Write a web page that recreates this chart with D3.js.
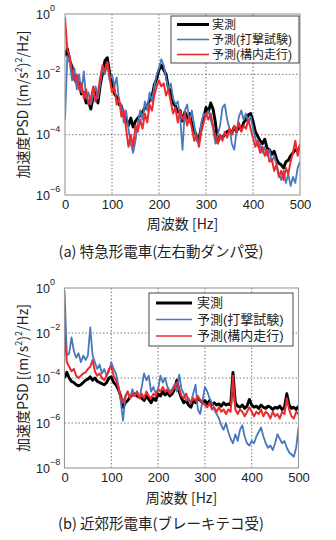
<!DOCTYPE html>
<html>
<head>
<meta charset="utf-8">
<script src="https://cdn.jsdelivr.net/npm/d3@7"></script>
<style>
  body{margin:0;background:#fff;}
  svg{display:block;font-family:"Liberation Sans",Arial,sans-serif;}
  .jp{font-family:"Noto Sans CJK JP",sans-serif;}
  .lg{font-family:"Liberation Sans","Noto Sans CJK JP",sans-serif;}
  .grid line{stroke:#555;stroke-dasharray:1.5,2;stroke-width:0.8;}
  .line{fill:none;stroke-linejoin:round;}
</style>
</head>
<body>
<script>
// 周波数 [Hz] (5Hz刻み)
var freq = d3.range(0, 505, 5);

// 凡例
var names = ["実測", "予測(打撃試験)", "予測(構内走行)"];
var colors = ["#000000", "#4a78bd", "#ec2a2e"];
var widths = [2.9, 1.8, 2.0];

// PSDの値 (log10)  -- (a) 特急形電車
var measA = [
  -1.4,-1.15,-1.55,-1.75,-2.15,-2.3,-2.25,-2.65,-2.6,-2.95,
  -2.9,-3.15,-2.75,-2.6,-2.95,-2.35,-1.95,-1.55,-1.45,-1.95,
  -2.25,-2.65,-2.75,-3.0,-3.05,-3.35,-3.45,-3.7,-3.45,-3.75,
  -3.55,-3.45,-3.35,-3.25,-3.1,-3.05,-2.85,-2.75,-2.35,-2.15,
  -1.85,-1.7,-1.85,-2.0,-2.45,-2.55,-2.95,-3.05,-3.25,-3.2,
  -3.55,-3.25,-3.45,-3.3,-3.65,-3.85,-4.05,-4.15,-3.75,-3.45,
  -3.1,-3.25,-2.95,-3.15,-3.6,-4.25,-4.05,-4.1,-4.0,-3.9,
  -3.85,-3.95,-3.75,-3.9,-3.7,-3.85,-3.6,-3.5,-3.35,-3.3,
  -3.55,-3.9,-4.05,-4.2,-4.3,-4.15,-4.45,-4.5,-4.65,-4.55,
  -4.8,-4.95,-5.0,-5.1,-4.9,-4.85,-4.7,-4.6,-4.5,-4.55,
  -4.4];
var hammerA = [
  -3.5,-1.4,-1.6,-2.2,-1.8,-2.5,-2.0,-2.6,-1.9,-2.8,
  -2.6,-3.0,-2.7,-2.4,-2.8,-2.3,-1.8,-2.0,-1.6,-2.2,
  -2.0,-2.4,-2.1,-2.9,-3.0,-3.6,-3.2,-3.8,-4.3,-4.6,
  -4.2,-3.6,-3.2,-3.5,-2.9,-3.2,-2.6,-2.9,-2.4,-2.0,
  -1.8,-1.5,-1.7,-2.1,-2.5,-2.3,-2.8,-3.0,-2.9,-3.4,
  -4.5,-3.2,-3.0,-3.6,-3.2,-3.7,-4.2,-4.3,-3.6,-3.3,
  -3.4,-3.2,-3.5,-3.8,-4.3,-4.0,-3.7,-3.1,-3.0,-3.5,
  -3.8,-4.3,-4.5,-3.9,-3.4,-3.2,-3.5,-3.3,-3.6,-3.4,
  -3.8,-4.1,-4.4,-4.3,-4.6,-4.4,-4.7,-4.5,-4.9,-4.7,
  -5.0,-5.3,-5.5,-5.2,-5.6,-5.3,-5.7,-5.4,-5.6,-5.1,
  -4.9];
var runA = [
  -0.1,-1.2,-1.4,-1.9,-2.2,-2.0,-2.5,-2.3,-2.8,-2.5,
  -3.0,-2.8,-2.4,-2.9,-2.6,-2.1,-1.7,-1.9,-1.6,-2.1,
  -2.6,-2.4,-3.0,-2.8,-3.4,-3.2,-3.8,-4.4,-4.0,-4.4,
  -3.7,-3.9,-3.5,-3.8,-3.3,-3.6,-3.0,-3.2,-2.7,-2.4,
  -2.2,-2.4,-2.3,-2.7,-2.5,-2.9,-3.3,-3.1,-3.6,-3.2,
  -3.5,-3.3,-3.7,-3.4,-3.8,-4.2,-4.0,-4.4,-3.9,-3.6,
  -3.3,-3.5,-3.3,-3.7,-4.1,-4.3,-4.0,-4.2,-3.9,-4.1,
  -3.8,-4.0,-3.7,-3.9,-3.6,-3.9,-3.7,-3.8,-3.5,-3.8,
  -4.1,-4.4,-4.2,-4.6,-4.4,-4.7,-4.5,-4.9,-4.8,-5.2,
  -5.0,-5.4,-5.2,-5.5,-5.1,-5.3,-4.9,-4.6,-4.2,-4.7,
  -4.3];

// PSDの値 (log10)  -- (b) 近郊形電車
var measB = [
  -4.0,-3.75,-4.0,-4.15,-4.2,-4.3,-4.35,-4.3,-4.2,-4.1,
  -4.05,-3.95,-4.1,-4.0,-4.15,-4.2,-4.25,-4.3,-4.2,-4.0,
  -3.95,-4.2,-4.3,-4.5,-4.8,-5.3,-5.1,-5.0,-4.85,-4.75,
  -4.7,-4.8,-4.85,-4.9,-5.0,-4.8,-4.95,-5.1,-4.9,-5.0,
  -4.7,-4.8,-4.6,-4.75,-4.65,-4.8,-4.7,-4.5,-4.1,-4.6,
  -4.9,-5.1,-5.0,-5.2,-5.3,-5.0,-5.1,-4.9,-5.0,-5.1,
  -5.0,-5.15,-5.0,-5.2,-5.1,-5.2,-5.15,-5.25,-5.1,-5.2,
  -5.15,-5.2,-3.75,-5.1,-5.25,-5.3,-5.2,-5.35,-5.25,-4.95,
  -5.2,-5.3,-5.25,-5.35,-5.2,-5.3,-5.35,-5.25,-5.3,-5.4,
  -5.3,-5.35,-5.25,-5.4,-5.3,-4.7,-5.2,-5.35,-5.3,-5.4,
  -5.25];
var hammerB = [
  -0.1,-3.0,-2.9,-2.2,-2.8,-3.1,-2.9,-3.3,-3.0,-3.2,
  -3.0,-1.75,-3.0,-3.3,-3.6,-3.4,-3.8,-3.6,-3.9,-3.7,
  -3.3,-3.6,-3.8,-4.3,-5.0,-5.9,-4.9,-4.6,-4.9,-4.5,
  -4.8,-4.6,-4.9,-4.4,-3.8,-4.1,-3.9,-4.6,-4.4,-4.7,
  -4.5,-3.9,-4.2,-4.0,-4.4,-4.6,-4.5,-4.3,-4.6,-3.85,
  -4.5,-4.7,-5.0,-4.9,-5.1,-4.7,-4.3,-5.4,-5.6,-5.0,
  -4.4,-4.6,-4.9,-5.1,-5.4,-5.6,-5.8,-6.1,-6.3,-6.0,
  -6.4,-6.7,-6.9,-6.5,-6.8,-6.3,-6.1,-6.6,-6.9,-7.0,
  -6.8,-6.9,-6.6,-6.4,-6.2,-6.6,-6.9,-7.1,-7.0,-7.2,
  -6.9,-6.5,-6.7,-6.9,-6.8,-7.1,-7.3,-7.4,-7.5,-7.1,
  -6.2];
var runB = [
  -2.0,-3.3,-3.5,-3.7,-3.6,-3.9,-4.0,-3.9,-3.8,-3.75,
  -3.6,-3.5,-3.2,-3.7,-3.9,-3.8,-4.0,-4.1,-3.9,-3.6,
  -3.5,-3.9,-4.1,-4.4,-4.85,-5.1,-4.8,-4.6,-4.9,-4.7,
  -4.8,-4.6,-4.9,-4.7,-4.9,-4.6,-4.8,-4.9,-4.7,-4.8,
  -4.5,-4.6,-4.4,-4.6,-4.5,-4.7,-4.6,-4.4,-4.2,-4.5,
  -4.8,-4.9,-4.7,-5.0,-5.1,-4.9,-5.0,-4.8,-5.0,-5.1,
  -5.2,-5.3,-5.1,-5.4,-5.3,-5.5,-5.3,-5.5,-5.4,-5.6,
  -5.4,-5.5,-3.9,-5.4,-5.6,-5.4,-5.5,-5.7,-5.5,-5.3,
  -5.5,-5.7,-5.5,-5.6,-5.4,-5.7,-5.5,-5.6,-5.8,-5.5,
  -5.7,-5.6,-5.8,-5.5,-5.6,-4.9,-5.4,-5.7,-5.8,-5.5,
  -5.6];

var xTicks = [0, 100, 200, 300, 400, 500];

var panels = [
  {box:{l:65, r:300, t:14, b:195}, minExp:-6, yTicks:[0,-2,-4,-6],
   series:[measA, hammerA, runA],
   legend:{x:171, y:16, w:128, h:47, lx0:177, lx1:209, tx:212, rows:[24.5,39.5,54.5], fs:12},
   xlabY:229, caption:"(a) 特急形電車(左右動ダンパ受)", capY:257},
  {box:{l:64.5, r:298.5, t:288, b:468}, minExp:-8, yTicks:[0,-2,-4,-6,-8],
   series:[measB, hammerB, runB],
   legend:{x:149, y:293, w:144, h:53, lx0:156, lx1:192, tx:197, rows:[303,319.5,336], fs:13},
   xlabY:503, caption:"(b) 近郊形電車(ブレーキテコ受)", capY:529}
];

var svg = d3.select("body").append("svg")
    .attr("width", 336)
    .attr("height", 540);

svg.append("rect").attr("width",336).attr("height",540).attr("fill","#fff");

panels.forEach(function(p, i){
  var b = p.box;
  var x = d3.scaleLinear().domain([0,500]).range([b.l, b.r]);
  var y = d3.scaleLog().domain([Math.pow(10,p.minExp), 1]).range([b.b, b.t]);

  var g = svg.append("g");

  // グリッド
  var grid = g.append("g").attr("class","grid");
  grid.selectAll(".vx").data(xTicks.slice(1,-1)).enter().append("line")
      .attr("x1", d => x(d)).attr("x2", d => x(d))
      .attr("y1", b.t).attr("y2", b.b);
  grid.selectAll(".hy").data(p.yTicks.slice(1,-1)).enter().append("line")
      .attr("x1", b.l).attr("x2", b.r)
      .attr("y1", d => y(Math.pow(10,d))).attr("y2", d => y(Math.pow(10,d)));

  // 線
  g.append("clipPath").attr("id","clip"+i).append("rect")
      .attr("x", b.l).attr("y", b.t).attr("width", b.r-b.l).attr("height", b.b-b.t);

  var line = d3.line()
      .x(function(d,k){ return x(freq[k]); })
      .y(function(d){ return y(Math.pow(10,d)); });

  p.series.forEach(function(s, k){
    g.append("path")
        .datum(s)
        .attr("class","line")
        .attr("clip-path","url(#clip"+i+")")
        .attr("stroke", colors[k])
        .attr("stroke-width", widths[k])
        .attr("d", line);
  });

  // 枠
  g.append("rect")
      .attr("x", b.l).attr("y", b.t)
      .attr("width", b.r-b.l).attr("height", b.b-b.t)
      .attr("fill","none").attr("stroke","#999").attr("stroke-width",1.1);

  // 軸ラベル
  var yt = g.selectAll(".ytick").data(p.yTicks).enter().append("text")
      .attr("x", 36)
      .attr("y", d => y(Math.pow(10,d)) + 4.7)
      .attr("font-size", 12.5)
      .attr("fill", "#222");
  yt.append("tspan").text("10");
  yt.append("tspan").attr("font-size", 9).attr("dy", -7.5)
      .text(d => d === 0 ? "0" : "\u2212" + (-d));

  var xax = g.append("g")
      .attr("transform","translate(0,"+b.b+")")
      .call(d3.axisBottom(x).tickValues(xTicks).tickSize(0).tickPadding(5).tickFormat(d3.format("d")));
  xax.select(".domain").remove();
  xax.selectAll("text").attr("font-size",13).attr("fill","#222")
      .attr("font-family","'Liberation Sans',Arial,sans-serif");

  g.append("text").attr("class","jp")
      .attr("x", (b.l+b.r)/2).attr("y", p.xlabY)
      .attr("text-anchor","middle").attr("font-size",14).attr("fill","#222")
      .text("周波数 [Hz]");

  var yl = g.append("text").attr("class","jp")
      .attr("transform","translate(28,"+((b.t+b.b)/2)+") rotate(-90)")
      .attr("text-anchor","middle").attr("font-size",14).attr("fill","#222");
  yl.append("tspan").text("加速度PSD [(m/s");
  yl.append("tspan").attr("font-size",9).attr("dy",-6).text("2");
  yl.append("tspan").attr("dy",6).text(")");
  yl.append("tspan").attr("font-size",9).attr("dy",-6).text("2");
  yl.append("tspan").attr("dy",6).text("/Hz]");

  g.append("text").attr("class","jp")
      .attr("x", 161).attr("y", p.capY)
      .attr("text-anchor","middle").attr("font-size",14.5).attr("fill","#222")
      .text(p.caption);

  // 凡例
  var L = p.legend;
  var lg = g.append("g");
  lg.append("rect").attr("x",L.x).attr("y",L.y).attr("width",L.w).attr("height",L.h)
      .attr("fill","#fff").attr("stroke","#333").attr("stroke-width",0.9);
  names.forEach(function(n,k){
    lg.append("line").attr("x1",L.lx0).attr("x2",L.lx1)
        .attr("y1",L.rows[k]).attr("y2",L.rows[k])
        .attr("stroke",colors[k]).attr("stroke-width", k===0 ? 3 : 1.6);
    lg.append("text").attr("class","lg")
        .attr("x",L.tx).attr("y",L.rows[k]+4.3)
        .attr("font-size",L.fs).attr("fill","#222")
        .text(n);
  });
});
</script>
</body>
</html>
